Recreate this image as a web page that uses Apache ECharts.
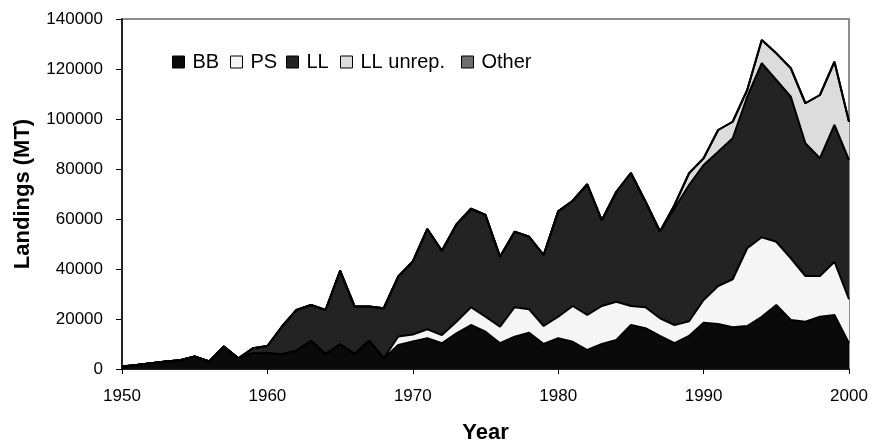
<!DOCTYPE html>
<html>
<head>
<meta charset="utf-8">
<script src="https://cdn.jsdelivr.net/npm/echarts@6/dist/echarts.min.js"></script>
<style>
html,body{margin:0;padding:0;background:#fff;}
#chart{width:871px;height:446px;}
</style>
</head>
<body>
<div id="chart"></div>
<script>
const years = [];
for (let y = 1950; y <= 2000; y++) years.push(String(y));

const bb = [1000,1600,2300,3000,3500,5000,3000,9000,4300,6300,
            6300,5900,7300,11300,6000,9900,6000,11300,4300,9600,
            11000,12300,10300,14300,17600,14900,10300,12900,14500,10000,
            12300,10900,7600,10000,11600,17600,16300,13200,10300,13200,
            18500,18000,16700,17200,20900,25600,19600,18900,20900,21600,
            10300];
const ps = [0,0,0,0,0,0,0,0,0,0,
            0,0,0,0,0,0,0,0,0,3400,
            2800,3600,3300,4600,7100,6000,6600,11800,9400,7200,
            8600,14300,14000,15200,15300,7600,8400,7100,7300,5900,
            9100,15200,19200,31100,31800,25300,24700,18300,16300,21300,
            17600];
const ll = [0,0,0,0,0,0,0,0,0,2000,
            2900,11100,16300,14300,17600,29400,19000,13700,20000,24000,
            29200,40100,33700,38900,39400,40700,28000,30200,29000,28400,
            42200,42100,52300,34300,44000,53200,42300,34700,46700,54500,
            54000,53700,56400,60600,69600,64700,64600,53100,47100,54700,
            55700];
const llUnrep = [0,0,0,0,0,0,0,0,0,0,
            0,0,0,0,0,0,0,0,0,0,
            0,0,0,0,0,0,0,0,0,0,
            0,0,0,0,0,0,0,0,1300,4700,
            2700,8700,6600,2700,9300,10700,11400,16000,25300,25300,
            15300];
const other = [0,0,0,0,0,0,0,0,0,0,
            0,0,0,0,0,0,0,0,0,0,
            0,0,0,0,0,0,0,0,0,0,
            0,0,0,0,0,0,0,0,0,0,
            0,0,0,0,0,0,0,0,0,0,
            0];

const names = ['BB','PS','LL','LL unrep.','Other'];
const colors = ['#0a0a0a','#f5f5f5','#232323','#dcdcdc','#6e6e6e'];
const values = [bb, ps, ll, llUnrep, other];
const legendLeft = [167, 225, 281, 335, 456];

const FONT = "'Liberation Sans', Arial, sans-serif";

const chart = echarts.init(document.getElementById('chart'), null, {renderer:'canvas'});

const legends = names.map((n, i) => ({
  data: [n],
  left: legendLeft[i],
  top: 47,
  itemWidth: 12,
  itemHeight: 12,
  icon: 'rect',
  itemStyle: {borderColor:'#000', borderWidth:1},
  textStyle: {fontFamily: FONT, fontSize: 20, color:'#000', padding:[0,0,0,3]},
  selectedMode: false
}));

const option = {
  backgroundColor: '#fff',
  animation: false,
  color: colors,
  legend: legends,
  grid: {left:122, right:22, top:19, bottom:77, outerBoundsMode:'none', containLabel:false,
         show:true, borderColor:'#8c8c8c', borderWidth:2, backgroundColor:'transparent'},
  xAxis: {
    type:'category',
    data: years,
    boundaryGap:false,
    name:'Year',
    nameLocation:'middle',
    nameGap:53,
    nameTextStyle:{fontFamily:FONT, fontSize:22, fontWeight:'bold', color:'#000'},
    axisLine:{show:true, lineStyle:{color:'#000', width:1.5}},
    axisTick:{show:true, interval:9, length:5, lineStyle:{color:'#000'}},
    axisLabel:{interval:9, margin:19, fontFamily:FONT, fontSize:17, color:'#000'},
    splitLine:{show:false}
  },
  yAxis: {
    type:'value',
    min:0, max:140000, interval:20000,
    name:'Landings (MT)',
    nameLocation:'middle',
    nameGap:88,
    nameTextStyle:{fontFamily:FONT, fontSize:22, fontWeight:'bold', color:'#000'},
    axisLine:{show:true, lineStyle:{color:'#000', width:1.5}},
    axisTick:{show:true, length:6, lineStyle:{color:'#000'}},
    axisLabel:{margin:19, fontFamily:FONT, fontSize:17, color:'#000', formatter: v => String(v)},
    splitLine:{show:false}
  },
  series: names.map((n, i) => ({
    name: n,
    type:'line',
    stack:'total',
    data: values[i],
    symbol:'none',
    lineStyle:{color:'#000', width:2},
    itemStyle:{color:colors[i], borderColor:'#000', borderWidth:1},
    areaStyle:{color:colors[i], opacity:1},
    z: 2
  }))
};
chart.setOption(option);
</script>
</body>
</html>
